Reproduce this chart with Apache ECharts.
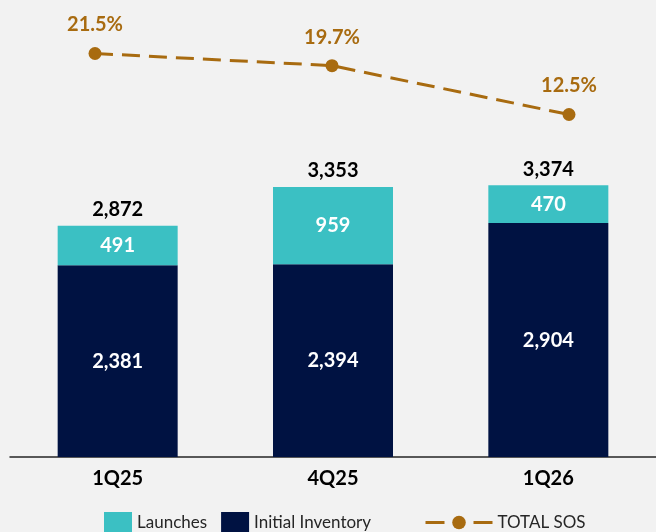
<!DOCTYPE html>
<html>
<head>
<meta charset="utf-8">
<script src="https://cdn.jsdelivr.net/npm/echarts@6/dist/echarts.min.js"></script>
<style>
  html, body { margin: 0; padding: 0; background: #f2f2f2; }
  #chart { width: 656px; height: 532px; }
</style>
</head>
<body>
<div id="chart"></div>
<script>
const categories = ['1Q25', '4Q25', '1Q26'];
const initialInventory = [2381, 2394, 2904];
const launches = [491, 959, 470];
const totalSos = [21.5, 19.7, 12.5];

// totals shown above the stacks
const totals = initialInventory.map((v, i) => v + launches[i]);

const fontFamily = 'Lato, "Open Sans", sans-serif';
const navy = '#001242';
const teal = '#3bc0c3';
const brown = '#a86b10';

const chart = echarts.init(document.getElementById('chart'), null, { renderer: 'canvas' });

const option = {
  backgroundColor: '#f2f2f2',
  textStyle: { fontFamily: fontFamily },
  grid: [
    { left: 10, width: 648, top: 6, bottom: 75 },
    { left: 95, width: 474, top: 6, bottom: 75 }
  ],
  xAxis: [
    {
      type: 'category',
      gridIndex: 0,
      data: categories,
      axisLine: { lineStyle: { color: '#262626', width: 1.5 } },
      axisTick: { show: false },
      axisLabel: {
        color: '#000',
        fontSize: 20,
        fontWeight: 'bold',
        margin: 12,
        fontFamily: fontFamily
      }
    },
    {
      type: 'category',
      gridIndex: 1,
      data: categories,
      boundaryGap: false,
      show: false
    }
  ],
  yAxis: [
    { type: 'value', gridIndex: 0, min: 0, max: 5600, show: false, splitLine: { show: false } },
    { type: 'value', gridIndex: 1, min: -38, max: 28.5, show: false, splitLine: { show: false } }
  ],
  legend: [
    {
      data: ['Launches', 'Initial Inventory'],
      left: 99,
      top: 507,
      itemWidth: 28,
      itemHeight: 21,
      itemGap: 14,
      icon: 'rect',
      textStyle: { color: '#262626', fontSize: 17, fontFamily: fontFamily }
    },
    {
      data: ['TOTAL SOS'],
      left: 419,
      top: 509,
      itemWidth: 67,
      itemHeight: 17,
      lineStyle: { type: [19, 29], width: 3 },
      textStyle: { color: '#262626', fontSize: 17, fontFamily: fontFamily }
    }
  ],
  series: [
    {
      name: 'Initial Inventory',
      type: 'bar',
      stack: 'sos',
      xAxisIndex: 0,
      yAxisIndex: 0,
      barWidth: 120,
      data: initialInventory,
      itemStyle: { color: navy },
      label: {
        show: true,
        position: 'inside',
        color: '#fff',
        fontSize: 20,
        fontWeight: 'bold',
        formatter: p => p.value.toLocaleString('en-US')
      }
    },
    {
      name: 'Launches',
      type: 'bar',
      stack: 'sos',
      xAxisIndex: 0,
      yAxisIndex: 0,
      barWidth: 120,
      data: launches,
      itemStyle: { color: teal },
      label: {
        show: true,
        position: 'inside',
        color: '#fff',
        fontSize: 20,
        fontWeight: 'bold',
        formatter: p => p.value.toLocaleString('en-US')
      }
    },
    {
      name: 'Total',
      type: 'bar',
      stack: 'sos',
      xAxisIndex: 0,
      yAxisIndex: 0,
      barWidth: 120,
      silent: true,
      data: totals.map(() => 0),
      itemStyle: { color: 'transparent' },
      label: {
        show: true,
        position: 'top',
        distance: 6,
        color: '#000',
        fontSize: 20,
        fontWeight: 'bold',
        formatter: p => totals[p.dataIndex].toLocaleString('en-US')
      }
    },
    {
      name: 'TOTAL SOS',
      type: 'line',
      xAxisIndex: 1,
      yAxisIndex: 1,
      data: totalSos,
      symbol: 'circle',
      symbolSize: 13,
      itemStyle: { color: brown },
      lineStyle: { color: brown, width: 3, type: [18, 9] },
      label: {
        show: true,
        position: 'top',
        distance: 12,
        color: brown,
        fontSize: 20,
        fontWeight: 'bold',
        formatter: p => p.value.toFixed(1) + '%'
      }
    }
  ]
};

chart.setOption(option);
</script>
</body>
</html>
